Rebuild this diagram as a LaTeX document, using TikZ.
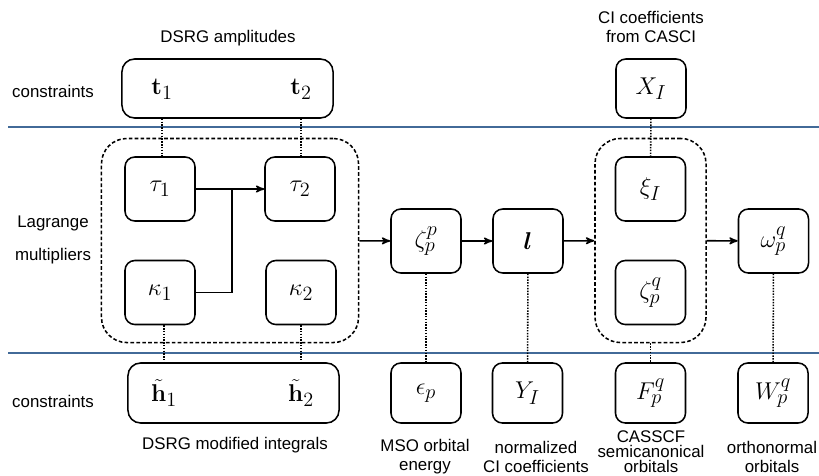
\documentclass[tikz,border=0pt]{standalone}
\usepackage{amsmath}
\usepackage[no-math]{fontspec}
\setmainfont{Liberation Sans}
\usetikzlibrary{arrows}
\definecolor{sepblue}{RGB}{66,106,152}

\begin{document}
\begin{tikzpicture}[x=0.025cm, y=-0.025cm, >=stealth',
  box/.style={draw, line width=1.1pt, rounded corners=7pt, minimum width=1.75cm, minimum height=1.6cm, inner sep=0pt, font=\fontsize{19}{21}\selectfont},
  wide/.style={draw, line width=1.1pt, rounded corners=9pt, minimum width=5.275cm, minimum height=1.475cm},
  group/.style={draw, line width=1.1pt, dash pattern=on 2.6pt off 1.6pt, rounded corners=18pt, minimum width=6.425cm, minimum height=5.1cm},
  sym/.style={inner sep=0pt, font=\fontsize{19}{21}\selectfont},
  txt/.style={inner sep=0pt, align=center, font=\fontsize{12}{13.5}\selectfont},
  sepline/.style={sepblue, line width=1.1pt},
  dotline/.style={line width=1.1pt, dash pattern=on 1pt off 1pt},
  link/.style={line width=1.1pt, ->}]
\useasboundingbox (0,0) rectangle (819,475);
% separating lines
\draw[sepline] (8,127) -- (819,127);
\draw[sepline] (8,353) -- (819,353);
% row labels
\node[txt] (conTop) at (53,91) {constraints};
\node[txt, font=\fontsize{12}{23.5}\selectfont] (lagr) at (53,240) {Lagrange\\multipliers};
\node[txt] (conBot) at (53,401) {constraints};
% DSRG part
\node[txt] (capAmp) at (228,38) {DSRG amplitudes};
\node[wide] (T) at (227.5,88.5) {};
\node[sym] (t1) at (162,89) {$\mathbf{t}_1$};
\node[sym] (t2) at (301,89) {$\mathbf{t}_2$};
\node[group] (grpA) at (230,240.5) {};
\node[box] (tau1) at (160,189) {$\tau_1$};
\node[box] (tau2) at (300,189) {$\tau_2$};
\node[box] (kap1) at (160,292.5) {$\kappa_1$};
\node[box] (kap2) at (301,292.5) {$\kappa_2$};
\node[wide, minimum height=1.5cm] (H) at (233.5,393) {};
\node[sym] (h1) at (164,393) {$\tilde{\mathbf{h}}_1$};
\node[sym] (h2) at (301,393) {$\tilde{\mathbf{h}}_2$};
\node[txt] (capInt) at (235,445) {DSRG modified integrals};
\draw[dotline] (t1 |- T.south) -- (t1 |- tau1.north);
\draw[dotline] (t2 |- T.south) -- (t2 |- tau2.north);
\draw[dotline] (h1 |- kap1.south) -- (h1 |- H.north);
\draw[dotline] (h2 |- kap2.south) -- (h2 |- H.north);
\coordinate (jn) at (232,189);
\draw[line width=1.1pt] (kap1.east) -| (jn);
\draw[link] (tau1) -- (tau2);
% chain to the right
\node[box] (zpp) at (426,241) {$\zeta_p^p$};
\node[box] (lvec) at (528,241) {$\boldsymbol{l}$};
\node[group, minimum width=2.775cm] (grpB) at (650.5,240.5) {};
\node[box] (xi) at (650.5,189) {$\xi_I$};
\node[box] (zpq) at (650.5,292.5) {$\zeta_p^q$};
\node[box] (omg) at (773.5,241) {$\omega_p^q$};
\node[txt] (capCI) at (651,27) {CI coefficients\\from CASCI};
\node[box, minimum height=1.475cm] (XI) at (651,88.5) {$X_I$};
\draw[link] (grpA) -- (zpp);
\draw[link] (zpp) -- (lvec);
\draw[link] (lvec) -- (grpB);
\draw[link] (grpB) -- (omg);
% bottom constraints
\node[box, minimum height=1.5cm] (eps) at (426,393) {$\epsilon_p$};
\node[box, minimum height=1.5cm] (YI) at (527.5,393) {$Y_I$};
\node[box, minimum height=1.5cm] (Fpq) at (650.5,393) {$F_p^q$};
\node[box, minimum height=1.5cm] (Wpq) at (773,393) {$W_p^q$};
\node[txt] (capEps) at (425,456.5) {MSO orbital\\energy};
\node[txt] (capY) at (536,456.5) {normalized\\CI coefficients};
\node[txt, font=\fontsize{12}{10.7}\selectfont] (capF) at (651,452) {CASSCF\\semicanonical\\orbitals};
\node[txt] (capW) at (772,456.5) {orthonormal\\orbitals};
\draw[dotline] (XI) -- (xi);
\draw[dotline] (zpp) -- (eps);
\draw[dotline] (lvec) -- (YI);
\draw[dotline] (grpB) -- (Fpq);
\draw[dotline] (omg) -- (Wpq);
\end{tikzpicture}
\end{document}
